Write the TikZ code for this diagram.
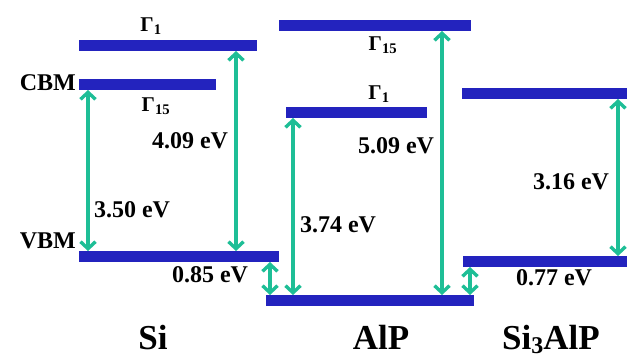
\documentclass[tikz,border=0pt]{standalone}
\usepackage{fontspec}
\setmainfont{Liberation Serif}
\usepackage{tikz}
\usetikzlibrary{arrows.meta, positioning}
\definecolor{lvlblue}{RGB}{35,35,190}
\definecolor{gapteal}{RGB}{30,190,150}
\tikzset{
  lvl/.style    = {rectangle, fill=lvlblue, draw=none, minimum height=11pt,
                   inner sep=0pt, outer sep=0pt, anchor=north west},
  gap/.style    = {{Straight Barb[length=7pt,width=15pt]}-{Straight Barb[length=7pt,width=15pt]},
                   draw=gapteal, line width=3.4pt},
  ev/.style     = {font=\fontsize{24}{28}\bfseries\selectfont, inner sep=1pt},
  sym/.style    = {font=\fontsize{21}{24}\bfseries\selectfont, inner sep=1pt},
  mat/.style    = {font=\fontsize{35}{38}\bfseries\selectfont, inner sep=0pt,
                   anchor=base, text depth=0pt},
}

\begin{document}
\begin{tikzpicture}[x=1pt, y=-1pt]
  \useasboundingbox (0,0) rectangle (627,359);

  % ---- levels --------------------------------------------------------------
  \foreach \nm/\a/\b/\y in {%
      siGa/79/257/40,  siCB/79/216/79,  siVB/79/279/251,
      alGb/279/471/20, alGa/286/427/107, alVB/266/474/295,
      saCB/462/627/88, saVB/463/627/256} {
     \node[lvl, minimum width={(\b-\a)*1pt}] (\nm) at (\a,\y) {};
  }

  % ---- gaps ----------------------------------------------------------------
  \foreach \c/\x in {xa/88, xb/236, xc/270, xd/293, xe/442, xf/470, xg/618}
     \coordinate (\c) at (\x,0);
  \draw[gap] (xa |- siCB.south) -- (xa |- siVB.north);
  \draw[gap] (xb |- siGa.south) -- (xb |- siVB.north);
  \draw[gap] (xc |- siVB.south) -- (xc |- alVB.north);
  \draw[gap] (xd |- alGa.south) -- (xd |- alVB.north);
  \draw[gap] (xe |- alGb.south) -- (xe |- alVB.north);
  \draw[gap] (xf |- saVB.south) -- (xf |- alVB.north);
  \draw[gap] (xg |- saCB.south) -- (xg |- saVB.north);

  % ---- labels --------------------------------------------------------------
  \node[sym] (gSa) at (151,26)  {Γ\textsubscript{1}};
  \node[sym] (gSb) at (156,106) {Γ\textsubscript{15}};
  \node[sym] (gAb) at (383,45)  {Γ\textsubscript{15}};
  \node[sym] (gAa) at (379,94)  {Γ\textsubscript{1}};
  \node[ev, anchor=east] (cbm) at (77,83)  {CBM};
  \node[ev, anchor=east] (vbm) at (77,241) {VBM};
  \foreach \nm/\x/\y/\t in {%
      eSa/132/210/3.50, eSb/190/141/4.09, eSc/210/275/0.85,
      eAa/338/225/3.74, eAb/396/146/5.09,
      eXa/571/182/3.16, eXb/554/278/0.77} {
     \node[ev] (\nm) at (\x,\y) {\t{} eV};
  }
  \node[mat] (si)  at (153,349) {Si};
  \node[mat] (alp) at (381,349) {AlP};
  \node[mat] (sap) at (551,349) {Si\raisebox{-4pt}{\fontsize{24}{24}\selectfont 3}AlP};
\end{tikzpicture}
\end{document}
